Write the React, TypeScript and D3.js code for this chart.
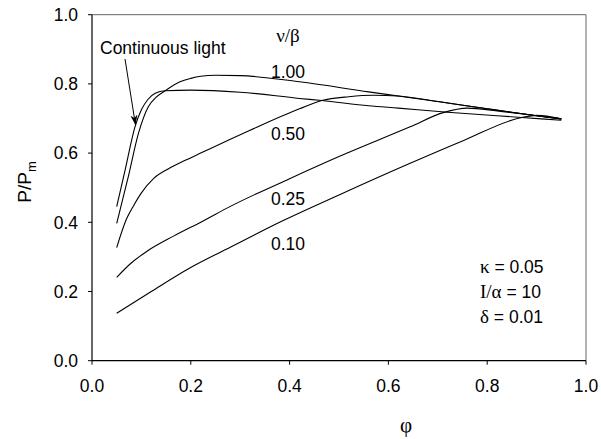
import React from 'react';
import * as d3 from 'd3';

// ---- data ----
const xTicks = [0, 0.2, 0.4, 0.6, 0.8, 1.0];
const yTicks = [0, 0.2, 0.4, 0.6, 0.8, 1.0];

const continuousLight: [number, number][] = [
  [0.05, 0.445], [0.067, 0.551], [0.087, 0.676], [0.1, 0.725], [0.113, 0.755],
  [0.128, 0.773], [0.148, 0.78], [0.2, 0.782], [0.3, 0.776], [0.42, 0.758],
  [0.465, 0.752], [0.56, 0.737], [0.62, 0.73], [0.72, 0.718], [0.87, 0.703], [0.95, 0.695],
];
const ratio100: [number, number][] = [
  [0.05, 0.397], [0.0735, 0.532], [0.094, 0.657], [0.114, 0.734], [0.13, 0.762],
  [0.148, 0.78], [0.178, 0.806], [0.2, 0.816], [0.22, 0.822], [0.25, 0.825],
  [0.3, 0.824], [0.42, 0.806], [0.56, 0.777], [0.62, 0.765], [0.7, 0.749],
  [0.8, 0.728], [0.9, 0.708], [0.95, 0.699],
];
const ratio050: [number, number][] = [
  [0.05, 0.327], [0.07, 0.41], [0.085, 0.45], [0.1, 0.485], [0.125, 0.527],
  [0.155, 0.555], [0.19, 0.58], [0.22, 0.6], [0.28, 0.64], [0.32, 0.666],
  [0.42, 0.728], [0.465, 0.752], [0.52, 0.763], [0.57, 0.767], [0.62, 0.765],
  [0.7, 0.749], [0.8, 0.728], [0.9, 0.708], [0.95, 0.699],
];
const ratio025: [number, number][] = [
  [0.05, 0.241], [0.08, 0.283], [0.11, 0.315], [0.165, 0.36], [0.225, 0.404],
  [0.28, 0.446], [0.4, 0.526], [0.5, 0.59], [0.644, 0.676], [0.711, 0.717],
  [0.76, 0.73], [0.82, 0.722], [0.9, 0.708], [0.95, 0.699],
];
const ratio010: [number, number][] = [
  [0.05, 0.137], [0.12, 0.2], [0.198, 0.268], [0.28, 0.328], [0.387, 0.405],
  [0.5, 0.479], [0.644, 0.5705], [0.75, 0.635], [0.87, 0.703], [0.9, 0.709], [0.95, 0.699],
];
const ratioLabels = ['1.00', '0.50', '0.25', '0.10'];

const W = 601;
const H = 439;
const left = 92, right = 586, top = 14.7, bottom = 360.7;

export default function App() {
  const x = d3.scaleLinear().domain([0, 1]).range([left, right]);
  const y = d3.scaleLinear().domain([0, 1]).range([bottom, top]);
  const line = d3.line<[number, number]>()
    .x(d => x(d[0]))
    .y(d => y(d[1]))
    .curve(d3.curveMonotoneX);

  const series = [continuousLight, ratio100, ratio050, ratio025, ratio010];
  const sans = '"Liberation Sans", Arial, sans-serif';
  const serif = '"Liberation Serif", "Times New Roman", serif';
  const fs = 17.5;
  const labelY = [78, 140, 205, 250];

  return (
    <svg width={W} height={H} style={{ position: 'absolute', left: 0, top: 0, background: '#fff' }}>
      <defs>
        <marker id="ah" viewBox="0 0 10 10" refX="10" refY="5" markerWidth="10" markerHeight="10"
          markerUnits="userSpaceOnUse" orient="auto">
          <path d="M0,1.5 L10,5 L0,8.5 L3,5 Z" fill="#000" />
        </marker>
      </defs>
      {/* frame */}
      <line x1={left} x2={right} y1={top} y2={top} stroke="#666" strokeWidth={1} />
      <line x1={right} x2={right} y1={top} y2={bottom} stroke="#666" strokeWidth={1} />
      <line x1={left} x2={left} y1={top} y2={bottom} stroke="#000" strokeWidth={1.2} />
      <line x1={left} x2={right} y1={bottom} y2={bottom} stroke="#000" strokeWidth={1.2} />
      {/* y ticks */}
      {yTicks.map(t => (
        <g key={'y' + t}>
          <line x1={left - 4} x2={left} y1={y(t)} y2={y(t)} stroke="#000" strokeWidth={1} />
          <text x={78} y={y(t)} dy="0.36em" textAnchor="end" fontFamily={sans} fontSize={fs}>{t.toFixed(1)}</text>
        </g>
      ))}
      {/* x ticks */}
      {xTicks.map(t => (
        <g key={'x' + t}>
          <line x1={x(t)} x2={x(t)} y1={bottom} y2={bottom + 4} stroke="#000" strokeWidth={1} />
          <text x={x(t)} y={392} textAnchor="middle" fontFamily={sans} fontSize={fs}>{t.toFixed(1)}</text>
        </g>
      ))}
      {/* curves */}
      {series.map((s, i) => (
        <path key={i} d={line(s) || ''} fill="none" stroke="#000" strokeWidth={1.1} />
      ))}
      {/* arrow */}
      <line x1={125} y1={59} x2={135.5} y2={125} stroke="#000" strokeWidth={1} markerEnd="url(#ah)" />
      <text x={100} y={54} fontFamily={sans} fontSize={fs}>Continuous light</text>
      {/* ratio labels */}
      <text x={288} y={42} textAnchor="middle" fontFamily={serif} fontSize={19}>ν/β</text>
      {ratioLabels.map((l, i) => (
        <text key={l} x={288} y={labelY[i]} textAnchor="middle" fontFamily={sans} fontSize={fs}>{l}</text>
      ))}
      {/* parameters */}
      <text x={480} y={273} fontFamily={sans} fontSize={fs}>
        <tspan fontFamily={serif} fontSize={19}>κ</tspan> = 0.05
      </text>
      <text x={480} y={298} fontFamily={sans} fontSize={fs}>
        <tspan fontFamily={serif} fontSize={19}>I/α</tspan> = 10
      </text>
      <text x={480} y={323} fontFamily={sans} fontSize={fs}>
        <tspan fontFamily={serif} fontSize={19}>δ</tspan> = 0.01
      </text>
      {/* axis titles */}
      <text x={406} y={432} textAnchor="middle" fontFamily={serif} fontSize={21}>φ</text>
      <text transform="translate(31,182) rotate(-90)" textAnchor="middle" fontFamily={sans} fontSize={19}>
        P/P<tspan fontSize={13} dy={5}>m</tspan>
      </text>
    </svg>
  );
}
